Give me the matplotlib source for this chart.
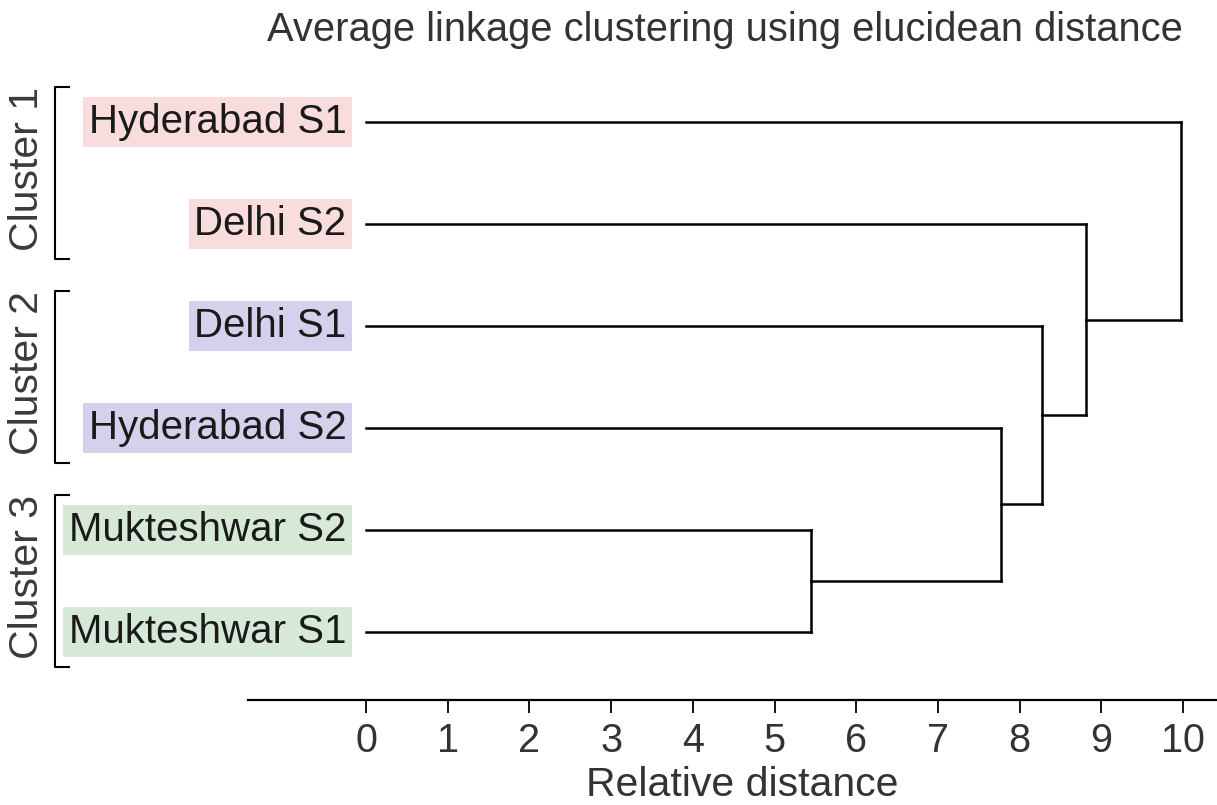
import matplotlib
matplotlib.use("Agg")
import matplotlib.pyplot as plt

# leaves, top to bottom
leaves = ["Hyderabad S1", "Delhi S2", "Delhi S1", "Hyderabad S2",
          "Mukteshwar S2", "Mukteshwar S1"]
leaf_cluster = [0, 0, 1, 1, 2, 2]

# merges: (child a, child b, height); children >= len(leaves) refer to earlier merges
merges = [(4, 5, 5.45), (3, 6, 7.77), (2, 7, 8.28), (1, 8, 8.81), (0, 9, 9.97)]

cluster_names = ["Cluster 1", "Cluster 2", "Cluster 3"]
cluster_colors = ["#f9dcdc", "#d5d1ec", "#d6e9d6"]
ticks = list(range(0, 11))

plt.rcParams["font.family"] = ["Liberation Sans", "DejaVu Sans"]

fig = plt.figure(figsize=(12.17, 8.05), dpi=100)
ax = fig.add_axes([0, 105 / 805, 1, 700 / 805])
ax.set_xlim(-366 / 81.7, (1217 - 366) / 81.7)
ax.set_ylim((700 - 122) / 102, -122 / 102)

# dendrogram
pos = {i: float(i) for i in range(len(leaves))}
hgt = {i: 0.0 for i in range(len(leaves))}
for k, (a, b, h) in enumerate(merges):
    node = len(leaves) + k
    for c in (a, b):
        ax.plot([hgt[c], h], [pos[c], pos[c]], color="black", lw=1.8,
                solid_capstyle="projecting")
    ax.plot([h, h], [pos[a], pos[b]], color="black", lw=1.8,
            solid_capstyle="projecting")
    pos[node] = (pos[a] + pos[b]) / 2
    hgt[node] = h

# leaf labels
for i, name in enumerate(leaves):
    ax.text(-0.24, i, name, ha="right", va="center", fontsize=29, color="#1a1a1a",
            bbox=dict(facecolor=cluster_colors[leaf_cluster[i]], edgecolor="none", pad=4))

# cluster brackets
for c, cname in enumerate(cluster_names):
    idx = [i for i, lc in enumerate(leaf_cluster) if lc == c]
    y0, y1 = idx[0] - 0.34, idx[-1] + 0.34
    x0, x1 = -3.81, -3.64
    ax.plot([x1, x0, x0, x1], [y0, y0, y1, y1], color="black", lw=1.5)
    ax.text(-4.15, (y0 + y1) / 2 - 0.04, cname, rotation=90, ha="center", va="center",
            fontsize=29.5, color="#3a3a3a")

for s in ["top", "right", "left"]:
    ax.spines[s].set_visible(False)
ax.spines["bottom"].set_bounds(-118 / 81.7, (1217 - 366) / 81.7)
ax.spines["bottom"].set_linewidth(1.6)
ax.set_yticks([])
ax.set_xticks(ticks)
ax.tick_params(axis="x", length=9, width=1.3, pad=7, labelsize=28.5, labelcolor="#333333")

fig.text(742 / 1217, 1 - 785 / 805, "Relative distance", ha="center", va="center",
         fontsize=29.5, color="#333333")
fig.text(1183 / 1217, 1 - 30 / 805, "Average linkage clustering using elucidean distance",
         ha="right", va="center", fontsize=28.7, color="#333333")

fig.savefig("out.png", dpi=100)
